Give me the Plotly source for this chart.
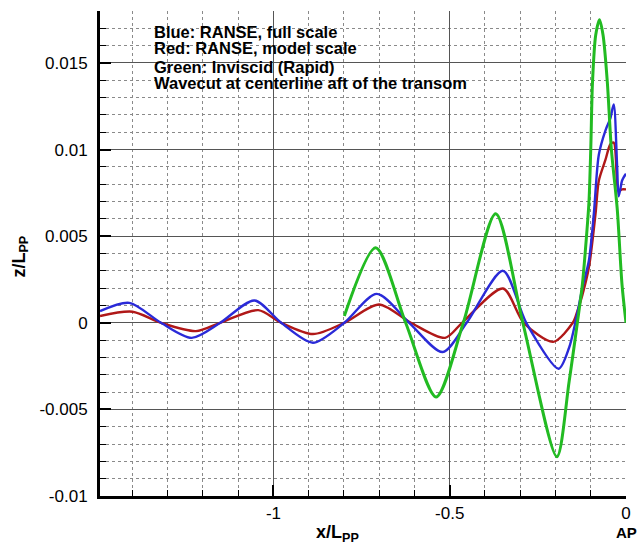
import plotly.graph_objects as go

# ---- data ----
blue_x = [-1.492, -1.409, -1.319, -1.232, -1.151, -1.054, -0.978, -0.888, -0.799, -0.707,
          -0.615, -0.520, -0.452, -0.349, -0.283, -0.191, -0.1614, -0.1427, -0.1238, -0.1052,
          -0.0912, -0.0771, -0.0584, -0.0444, -0.0349, -0.0253, -0.0208, -0.0113, -0.0067, 0.0]
blue_y = [0.00067, 0.00115, 0.0, -0.00087, 0.0, 0.00129, 0.0, -0.00115, 0.0, 0.00167,
          0.0, -0.00169, 0.0, 0.0030, 0.0, -0.00265, -0.00144, 0.0001, 0.0020, 0.0036,
          0.0063, 0.0097, 0.0111, 0.0118, 0.0126, 0.0091, 0.0073, 0.0082, 0.0084, 0.0086]

red_x = [-1.492, -1.400, -1.319, -1.220, -1.151, -1.043, -0.978, -0.888, -0.799, -0.7006,
         -0.610, -0.513, -0.465, -0.349, -0.290, -0.2065, -0.151, -0.141, -0.1238, -0.1052,
         -0.0864, -0.0771, -0.0584, -0.0444, -0.0349, -0.0250, -0.0208, -0.0113, 0.0]
red_y = [0.00039, 0.00064, 0.0, -0.00048, 0.0, 0.00073, 0.0, -0.00065, 0.0, 0.00106,
         0.0, -0.00087, 0.0, 0.00198, 0.0, -0.0011, 0.0, 0.00048, 0.0016, 0.0032,
         0.0063, 0.0082, 0.0094, 0.0103, 0.0104, 0.0080, 0.0076, 0.0077, 0.0077]

green_x = [-0.799, -0.710, -0.625, -0.5385, -0.4615, -0.3697, -0.2926, -0.196, -0.1614, -0.1380,
           -0.1238, -0.112, -0.105, -0.100, -0.095, -0.086, -0.0751, -0.065, -0.053, -0.0414,
           -0.025, -0.0113, 0.0]
green_y = [0.00039, 0.00433, 0.0, -0.00428, 0.0, 0.00629, 0.0, -0.00773, -0.0034, 0.0,
           0.0022, 0.0050, 0.0070, 0.0100, 0.0139, 0.0166, 0.0175, 0.0166, 0.0139, 0.0100,
           0.0066, 0.0022, 0.0]

x_tickvals = [-1.0, -0.5, 0.0]
x_ticktext = ["-1", "-0.5", "0"]
y_tickvals = [-0.01, -0.005, 0.0, 0.005, 0.01, 0.015]
y_ticktext = ["-0.01", "-0.005", "0", "0.005", "0.01", "0.015"]

note_lines = ["Blue: RANSE, full scale",
              "Red: RANSE, model scale",
              "Green: Inviscid (Rapid)",
              "Wavecut at centerline aft of the transom"]

FONT = "Arial, Liberation Sans, sans-serif"

fig = go.Figure()
fig.add_trace(go.Scatter(x=red_x, y=red_y, mode="lines",
                         line=dict(color="#b01818", width=2.4, shape="spline", smoothing=0.8)))
fig.add_trace(go.Scatter(x=blue_x, y=blue_y, mode="lines",
                         line=dict(color="#2a2ad8", width=2.4, shape="spline", smoothing=0.8)))
fig.add_trace(go.Scatter(x=green_x, y=green_y, mode="lines",
                         line=dict(color="#22bb22", width=3, shape="spline", smoothing=0.8)))

major_grid = "#555555"
minor_grid = "#8a8a8a"

fig.update_xaxes(range=[-1.492, 0.0], tickmode="array", tickvals=x_tickvals, ticktext=x_ticktext,
                 showline=True, linecolor="black", linewidth=3, mirror=False,
                 ticks="inside", ticklen=11, tickwidth=2, tickcolor="black",
                 showgrid=True, gridcolor=major_grid, gridwidth=1, zeroline=False,
                 tickfont=dict(family=FONT, size=17, color="black"),
                 minor=dict(tickmode="linear", tick0=0, dtick=0.1, ticks="inside", ticklen=6,
                            tickwidth=1, tickcolor="black", showgrid=True,
                            gridcolor=minor_grid, griddash="dot", gridwidth=1))
fig.update_yaxes(range=[-0.01, 0.018], tickmode="array", tickvals=y_tickvals, ticktext=y_ticktext,
                 showline=True, linecolor="black", linewidth=3, mirror=False,
                 ticks="inside", ticklen=11, tickwidth=2, tickcolor="black",
                 showgrid=True, gridcolor=major_grid, gridwidth=1, zeroline=False,
                 ticklabelstandoff=6,
                 tickfont=dict(family=FONT, size=17, color="black"),
                 minor=dict(tickmode="linear", tick0=0, dtick=0.001, ticks="inside", ticklen=6,
                            tickwidth=1, tickcolor="black", showgrid=True,
                            gridcolor=minor_grid, griddash="dot", gridwidth=1))

annotations = []
line_y = [0.9573, 0.9231, 0.8852, 0.8509]
for txt, yp in zip(note_lines, line_y):
    annotations.append(dict(text="<b>" + txt + "</b>", x=0.0998, y=yp, xref="paper", yref="paper",
                            xanchor="left", yanchor="middle", showarrow=False,
                            font=dict(family=FONT, size=16.5, color="black")))
annotations.append(dict(text="<b>x/L<sub>PP</sub></b>", x=0.452, y=-0.078, xref="paper", yref="paper",
                        xanchor="center", yanchor="middle", showarrow=False,
                        font=dict(family=FONT, size=18, color="black")))
annotations.append(dict(text="<b>z/L<sub>PP</sub></b>", x=-0.151, y=0.4928, xref="paper", yref="paper",
                        xanchor="center", yanchor="middle", showarrow=False, textangle=-90,
                        font=dict(family=FONT, size=18, color="black")))
annotations.append(dict(text="<b>AP</b>", x=1.0, y=-0.075, xref="paper", yref="paper",
                        xanchor="center", yanchor="middle", showarrow=False,
                        font=dict(family=FONT, size=15, color="black")))

fig.update_layout(width=641, height=547, autosize=False,
                  margin=dict(l=100, r=10, t=11, b=51),
                  paper_bgcolor="white", plot_bgcolor="white",
                  showlegend=False, annotations=annotations)

fig.write_html("out.html")
